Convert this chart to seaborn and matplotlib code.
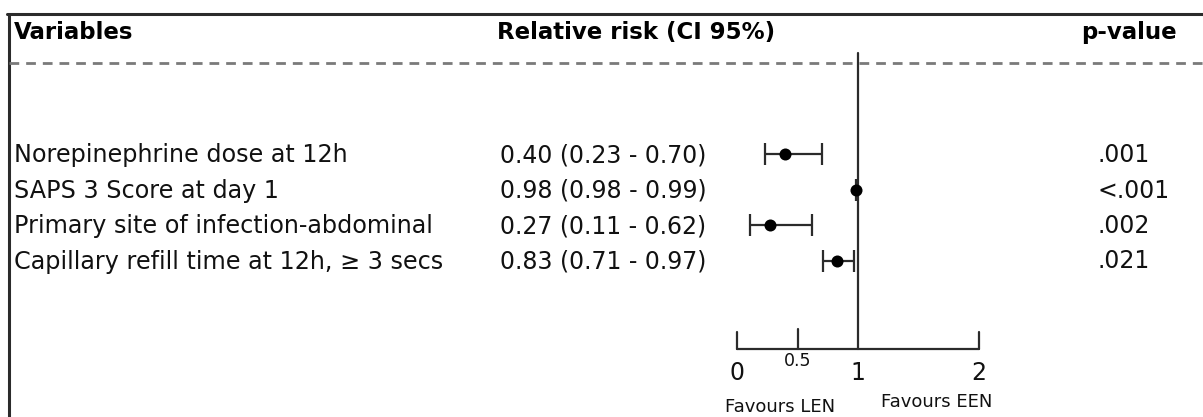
import matplotlib
matplotlib.use("Agg")
import matplotlib.pyplot as plt
import seaborn as sns
import pandas as pd

# forest plot data
variables = [
    "Norepinephrine dose at 12h",
    "SAPS 3 Score at day 1",
    "Primary site of infection-abdominal",
    "Capillary refill time at 12h, \u2265 3 secs",
]
rr = [0.40, 0.98, 0.27, 0.83]
ci_low = [0.23, 0.98, 0.11, 0.71]
ci_high = [0.70, 0.99, 0.62, 0.97]
p_values = [".001", "<.001", ".002", ".021"]
axis_ticks = [0, 0.5, 1, 2]
axis_labels = ["0", "0.5", "1", "2"]

sns.set_theme(style="white")
plt.rcParams["font.family"] = ["DejaVu Sans"]

W, H = 1203, 417
fig = plt.figure(figsize=(W / 100, H / 100), dpi=100)

# background axes in pixel units (text, borders)
bg = fig.add_axes([0, 0, 1, 1])
bg.set_xlim(0, W)
bg.set_ylim(H, 0)
bg.axis("off")

# forest axes: x in relative risk units, y shares pixel rows
px_per_unit = 121
x0_px = 737
fa = fig.add_axes([0, 0, 1, 1], sharey=bg)
fa.set_xlim(-x0_px / px_per_unit, (W - x0_px) / px_per_unit)
fa.patch.set_alpha(0)
fa.axis("off")

df = pd.DataFrame({"variable": variables, "rr": rr, "lo": ci_low,
                   "hi": ci_high, "p": p_values})
row_top, row_step = 154, 35.5
df["y"] = [row_top + i * row_step for i in range(len(df))]

dark = "#2b2b2b"

# frame and header
bg.plot([7, W], [14, 14], color=dark, lw=2.2)
bg.plot([9, 9], [14, H], color=dark, lw=2.2)
bg.plot([9, W], [63, 63], color="#7a7a7a", lw=2, ls=(0, (3.5, 2.5)))
header_kw = dict(fontsize=16.5, fontweight="bold", va="center", color="black")
bg.text(14, 32, "Variables", **header_kw)
bg.text(497, 32, "Relative risk (CI 95%)", **header_kw)
bg.text(1081, 32, "p-value", **header_kw)

# row texts
for _, r in df.iterrows():
    bg.text(14, r["y"] + 1, r["variable"], fontsize=17.2, va="center", color="#111111")
    bg.text(500, r["y"] + 1, f"{r['rr']:.2f} ({r['lo']:.2f} - {r['hi']:.2f})",
            fontsize=17, va="center", color="#111111")
    bg.text(1097, r["y"] + 1, r["p"], fontsize=17, va="center", color="#111111")

# confidence intervals and point estimates
fa.errorbar(df["rr"], df["y"],
            xerr=[df["rr"] - df["lo"], df["hi"] - df["rr"]],
            fmt="none", ecolor=dark, elinewidth=1.6, capsize=8, capthick=1.6)
sns.scatterplot(data=df, x="rr", y="y", ax=fa, color="black", s=75,
                edgecolor="black", linewidth=0, zorder=3, legend=False)

# reference line and custom axis
axis_y = 349
fa.plot([1, 1], [53, axis_y], color=dark, lw=1.6)
fa.plot([axis_ticks[0], axis_ticks[-1]], [axis_y, axis_y], color=dark, lw=1.6)
for t, lab in zip(axis_ticks, axis_labels):
    if t == 1:
        fa.text(t, 373, lab, fontsize=17, ha="center", va="center", color="#111111")
        continue
    top = 329 if t == 0.5 else 332
    fa.plot([t, t], [top, axis_y], color=dark, lw=1.6)
    if t == 0.5:
        fa.text(t, 361, lab, fontsize=12.5, ha="center", va="center", color="#111111")
    else:
        fa.text(t, 373, lab, fontsize=17, ha="center", va="center", color="#111111")

bg.text(780, 407, "Favours LEN", fontsize=13, ha="center", va="center", color="#111111")
bg.text(937, 402, "Favours EEN", fontsize=13, ha="center", va="center", color="#111111")

fig.savefig("out.png", dpi=100)
